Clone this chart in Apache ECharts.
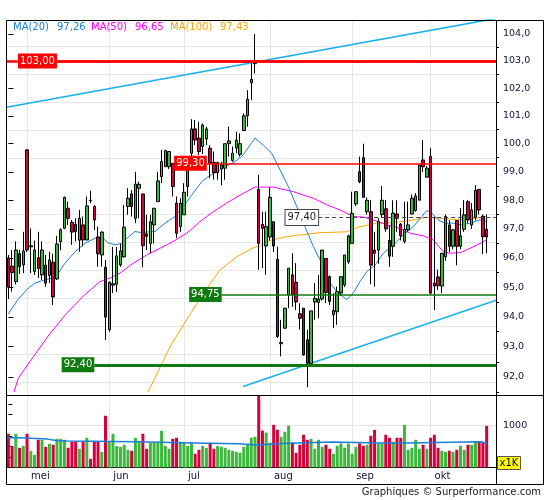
<!DOCTYPE html>
<html><head><meta charset="utf-8">
<script src="https://cdn.jsdelivr.net/npm/echarts@6/dist/echarts.min.js"></script>
<style>html,body{margin:0;padding:0;background:#fff}#c{width:545px;height:500px}</style>
</head><body><div id="c"></div>
<script>
// ---------------- DATA ----------------
const opens = [
96.0,95.72,95.19,96.15,95.76,99.78,96.38,95.54,96.01,95.42,
95.75,95.4,95.85,95.28,96.56,97.02,97.72,97.23,97.16,96.61,
97.14,96.62,98.0,97.78,96.72,96.1,95.68,93.57,95.07,95.1,
95.76,96.04,97.78,98.22,97.37,98.42,98.22,96.83,96.5,97.14,
97.95,98.83,99.18,99.18,99.3,97.9,97.08,97.49,98.48,99.66,
100.53,100.2,99.9,100.17,99.84,99.33,98.97,99.1,99.13,100.0,
99.4,99.84,99.62,100.47,101.0,102.2,102.9,98.38,97.16,96.41,
96.72,97.25,95.95,93.1,93.62,94.74,95.42,95.17,94.1,94.29,
93.23,92.45,94.5,94.48,94.6,95.98,95.36,94.07,94.17,94.8,
95.08,95.87,96.5,97.87,99.0,99.5,97.6,97.6,96.27,96.27,
97.5,97.7,96.6,96.4,97.52,97.17,96.57,96.97,97.52,97.64,
98.0,99.42,98.81,99.54,95.14,95.35,95.04,96.04,97.14,96.4,
97.29,96.4,96.99,97.95,97.14,97.4,98.38,97.44,96.99];
const closes = [
95.0,95.5,96.27,95.7,96.24,96.27,96.42,96.27,95.64,96.27,
95.14,95.93,94.67,96.48,96.97,98.1,97.37,96.89,96.91,97.37,
96.62,97.8,97.98,97.31,96.14,96.89,93.99,95.17,95.12,96.07,
96.24,97.06,98.07,97.78,98.57,98.56,96.42,96.74,97.25,97.72,
98.68,99.36,99.75,99.72,98.48,96.85,97.9,98.28,99.3,100.53,
100.13,99.72,100.67,100.53,99.3,98.97,99.33,99.24,100.0,100.1,
99.66,100.13,100.0,101.0,101.6,102.32,103.0,96.5,97.02,97.08,
98.1,96.41,93.34,93.14,94.29,95.65,94.74,94.5,93.95,92.73,
92.45,94.2,94.62,94.6,96.27,94.82,94.52,94.21,94.85,95.36,
96.1,96.76,97.54,98.3,98.65,98.1,98.0,95.75,96.16,97.25,
98.0,97.0,96.06,97.55,97.37,96.76,96.99,97.14,98.07,98.15,
99.24,99.18,99.13,94.8,95.04,95.05,96.16,97.43,96.4,96.97,
96.4,96.76,97.49,97.31,97.66,98.35,97.66,96.73,96.72];
const lows = [
94.6,94.85,95.1,95.45,95.48,96.2,95.48,95.42,95.31,95.25,
95.02,95.14,94.4,95.25,96.27,97.0,97.14,96.45,96.57,96.21,
96.4,96.6,97.9,96.96,95.7,95.7,93.23,93.5,94.8,94.84,
95.7,96.0,97.49,97.43,97.2,97.37,95.68,96.27,96.16,96.5,
97.95,98.6,99.18,99.1,98.13,96.68,96.9,97.49,98.13,99.42,
99.95,99.6,99.63,99.95,98.77,98.72,98.72,98.53,98.72,99.54,
99.36,99.66,99.54,100.47,100.61,101.57,102.54,95.6,95.65,95.42,
96.6,96.2,93.29,92.68,93.6,94.29,94.34,94.23,93.57,92.7,
91.66,92.4,93.9,93.95,94.55,94.46,94.4,93.62,93.73,94.7,
95.0,95.8,96.5,97.8,98.6,98.1,97.5,95.1,95.02,95.8,
97.4,96.9,95.7,96.04,96.9,96.6,96.5,96.9,97.5,97.6,
98.0,99.0,98.8,94.75,94.23,94.9,94.8,95.9,96.2,96.3,
95.75,96.3,96.9,97.2,97.0,97.3,97.5,96.13,96.16];
const highs = [
96.1,96.27,96.57,96.27,96.9,99.8,97.02,96.6,96.9,96.57,
96.1,96.21,96.15,96.76,97.02,98.13,97.95,97.31,97.37,97.66,
97.43,98.13,98.33,97.83,97.08,96.91,95.93,95.2,96.38,96.38,
96.48,97.83,98.42,98.36,99.0,98.65,98.22,97.49,97.49,97.72,
99.0,99.78,99.78,99.72,99.3,98.13,98.07,98.6,99.42,100.88,
100.85,100.79,100.73,100.61,99.95,99.72,99.36,99.36,100.0,100.61,
99.9,100.43,100.37,101.09,101.93,102.92,104.0,98.89,97.6,97.6,
98.45,97.25,96.39,93.9,94.3,95.65,96.16,95.82,94.46,94.3,
93.57,94.2,95.14,95.42,96.27,96.0,95.4,94.8,95.02,95.36,
96.1,96.8,98.3,98.3,99.54,100.0,98.1,98.0,96.9,97.37,
98.5,98.0,97.14,98.0,98.0,97.2,97.95,97.95,98.2,98.25,
99.24,100.13,99.2,99.84,97.43,95.6,96.16,97.5,97.3,97.0,
97.3,97.72,98.0,98.0,97.9,98.53,98.4,97.5,97.5];
const volumes = [
797,510,797,466,510,797,395,300,655,655,
490,560,537,678,678,655,466,608,608,442,
608,702,205,608,608,371,1223,608,797,510,
490,537,419,395,702,608,797,442,584,584,
584,868,510,442,678,702,608,584,510,584,
324,419,510,466,584,442,510,490,466,419,
395,371,348,490,560,702,726,1800,872,825,
588,1009,890,726,845,987,592,348,537,774,
655,679,442,655,490,537,442,324,513,569,
466,569,324,490,569,513,537,750,890,569,
569,774,703,608,703,703,1009,419,466,655,
442,537,442,703,774,466,395,371,395,371,
419,513,419,537,537,608,608,584,985];
// moving averages: [candle index, price]
const ma20 = [[0,94.1],[2.66,94.6],[5.33,94.97],[7.13,95.14],[8.92,95.22],[11.6,95.31],[13.36,95.48],[15.16,95.82],[17.83,96.21],[20.51,96.5],[23.18,96.68],[24.98,96.71],[26.74,96.52],[28.54,96.45],[30.33,96.5],[31.2,96.62],[33.89,96.91],[35.23,96.88],[39.24,96.91],[41.92,97.2],[44.59,97.43],[46.82,97.78],[49.06,98.18],[51.74,98.65],[53.5,98.83],[55.75,99.0],[57.98,99.18],[60.65,99.36],[62.87,99.6],[64.66,99.95],[66.0,100.2],[68.22,99.95],[70.47,99.66],[72.7,99.07],[74.92,98.48],[77.17,97.78],[79.39,97.08],[81.61,96.39],[83.86,95.82],[86.08,95.14],[88.3,94.8],[90.55,94.58],[92.31,94.8],[94.11,95.19],[95.9,95.53],[98.12,95.75],[100.34,96.16],[103.02,96.44],[105.69,96.79],[108.37,97.08],[110.62,97.43],[111.96,97.64],[113.29,97.55],[115.06,97.31],[116.85,97.2],[119.07,97.2],[121.32,97.14],[123.54,97.2],[126.22,97.31],[127.82,97.26]];
const ma50 = [[1.51,91.51],[2.66,91.96],[6.67,92.67],[11.14,93.44],[15.61,94.12],[20.05,94.7],[24.52,95.19],[27.2,95.31],[29.87,95.48],[33.43,95.82],[37.02,96.1],[40.58,96.33],[44.14,96.57],[47.72,96.85],[51.28,97.25],[54.84,97.6],[58.43,97.9],[61.99,98.18],[66.0,98.46],[69.13,98.46],[70.9,98.46],[76.26,98.3],[78.93,98.18],[81.61,98.07],[85.19,97.84],[88.75,97.66],[92.31,97.43],[94.99,97.41],[97.66,97.31],[101.25,97.14],[104.81,97.02],[107.48,96.85],[111.04,96.76],[113.72,96.62],[116.4,96.21],[118.19,96.16],[120.86,96.18],[123.54,96.33],[126.22,96.5],[128.0,96.62]];
const ma100 = [[37.37,91.51],[38.97,91.9],[43.26,93.0],[47.72,93.9],[52.17,94.8],[56.64,95.58],[61.11,96.04],[65.55,96.35],[67.4,96.42],[70.02,96.6],[74.49,96.73],[78.05,96.79],[83.4,96.87],[90.55,96.9],[94.11,97.08],[98.57,97.2],[103.02,97.22],[107.48,97.29],[111.96,97.41],[115.51,97.37],[120.86,97.31],[124.42,97.36],[126.67,97.41],[128.0,97.43]];
const maLast = {ma20: '97,26', ma50: '96,65', ma100: '97,43'};
// average volume (step line): [candle index, volume]
const volAvg = [[-0.3,702],[3.1,671],[10.6,640],[12.7,624],[15.7,608],[34.4,576],[52.6,560],[61.5,530],[66.5,568],[73.2,600],[86.6,576],[102.7,608],[126.5,568],[128.2,568]];
// trend lines: [candle index, price]
const upperTrend = [[-0.5,101.31],[130.5,104.58]];
const lowerTrend = [[62.8,91.69],[130.5,94.56]];
// horizontal levels
const levelValues = [103.00, 99.30, 94.75, 92.40, 97.40];
const levelStarts = [13.0, 53.1, 57.1, 23.0, 82.9];
// axes
const monthStarts = [5, 27, 47, 70, 92, 113];
const monthNames = ['mei', 'jun', 'jul', 'aug', 'sep', 'okt'];
const priceTicks = [92,93,94,95,96,97,98,99,100,101,102,103,104];
const priceMinorTicks = [91.5,92.5,93.5,94.5,95.5,96.5,97.5,98.5,99.5,100.5,101.5,102.5,103.5,104.5];
const volTicks = [250,500,750,1000,1250,1500];
const volLabels = [1000];
const yMin = 91.41, yMax = 104.52, volMax = 1714;
const NCAT = 131;
const categories = Array.from({length: NCAT}, (_, i) => String(i));

// ---------------- CHART ----------------
const L = Math.log;
const FONT = 'DejaVu Sans';
const AX = '#10103a';
const UP = '#3cb93c', DOWN = '#d6003c';
const fmt = (v, d) => v.toFixed(d).replace('.', ',');

const candleData = opens.map((o, i) => [L(o), L(closes[i]), L(lows[i]), L(highs[i])]);
const volData = volumes.map((v, i) => ({value: v, itemStyle: {color: closes[i] >= opens[i] ? UP : DOWN}}));
const toLn = arr => arr.map(p => [p[0], L(p[1])]);

function levelLine(idx, color, width, type, labelStyle) {
  const y = L(levelValues[idx]);
  return [
    {coord: [levelStarts[idx], y], lineStyle: {color, width, type},
     label: Object.assign({show: true, position: 'start', distance: 0, formatter: fmt(levelValues[idx], 2),
       fontFamily: FONT, fontSize: 10, padding: [2, 2, 1, 2], lineHeight: 12}, labelStyle)},
    {coord: [NCAT - 0.5, y]}
  ];
}

const option = {
  animation: false,
  grid: [
    {left: 6.5, top: 20, width: 489.5, height: 375},
    {left: 6.5, top: 395, width: 489.5, height: 72.5}
  ],
  xAxis: [
    {type: 'category', gridIndex: 0, data: categories, boundaryGap: true,
     axisLine: {show: false}, axisTick: {show: false}, axisLabel: {show: false}, splitLine: {show: false}},
    {type: 'category', gridIndex: 1, data: categories, boundaryGap: true,
     axisLine: {show: true, lineStyle: {color: '#000', width: 1}}, axisTick: {show: false},
     axisLabel: {show: true, interval: (i) => monthStarts.indexOf(i) >= 0,
       formatter: (v) => monthNames[monthStarts.indexOf(parseInt(v, 10))] || '',
       align: 'left', padding: [0, 0, 0, 4], margin: 4, color: AX, fontFamily: FONT, fontSize: 10},
     splitLine: {show: false}},
    {type: 'value', gridIndex: 0, min: -0.5, max: NCAT - 0.5, show: false},
    {type: 'value', gridIndex: 1, min: -0.5, max: NCAT - 0.5, show: false}
  ],
  yAxis: [
    {type: 'value', gridIndex: 0, position: 'right', min: L(yMin), max: L(yMax),
     axisLine: {show: false},
     axisTick: {show: true, customValues: priceTicks.map(L), length: 5, lineStyle: {color: '#000'}},
     axisLabel: {show: true, customValues: priceTicks.map(L), formatter: (v) => fmt(Math.exp(v), 1),
       color: AX, fontFamily: FONT, fontSize: 9.5, margin: 7},
     splitLine: {show: false}},
    {type: 'value', gridIndex: 0, position: 'right', min: L(yMin), max: L(yMax),
     axisLine: {show: false},
     axisTick: {show: true, customValues: priceMinorTicks.map(L), length: 3, lineStyle: {color: '#000'}},
     axisLabel: {show: false}, splitLine: {show: false}},
    {type: 'value', gridIndex: 1, position: 'right', min: 0, max: volMax,
     axisLine: {show: false},
     axisTick: {show: true, customValues: volTicks, length: 4, lineStyle: {color: '#000'}},
     axisLabel: {show: true, customValues: volLabels, formatter: (v) => String(v),
       color: AX, fontFamily: FONT, fontSize: 9.5, margin: 7},
     splitLine: {show: false}}
  ],
  series: [
    // grid lines (main)
    {type: 'line', xAxisIndex: 2, yAxisIndex: 0, data: [[0, L(100)]], symbol: 'none', silent: true, z: 1,
     lineStyle: {opacity: 0},
     markLine: {silent: true, symbol: ['none', 'none'], z: 1, animation: false, label: {show: false},
       lineStyle: {color: '#e6e6e6', width: 1, type: 'solid'},
       data: priceTicks.map(p => ({yAxis: L(p)})).concat(monthStarts.map(i => ({xAxis: i})))}},
    // grid lines (volume)
    {type: 'line', xAxisIndex: 3, yAxisIndex: 2, data: [[0, 0]], symbol: 'none', silent: true, z: 1,
     lineStyle: {opacity: 0},
     markLine: {silent: true, symbol: ['none', 'none'], z: 1, animation: false, label: {show: false},
       lineStyle: {color: '#e6e6e6', width: 1, type: 'solid'},
       data: [{yAxis: 1000}].concat(monthStarts.map(i => ({xAxis: i})))}},
    // moving averages
    {name: 'MA(100)', type: 'line', xAxisIndex: 2, yAxisIndex: 0, data: toLn(ma100), symbol: 'none',
     lineStyle: {color: '#ffa500', width: 1}, z: 3, silent: true},
    {name: 'MA(50)', type: 'line', xAxisIndex: 2, yAxisIndex: 0, data: toLn(ma50), symbol: 'none',
     lineStyle: {color: '#ff00ff', width: 1}, z: 3, silent: true},
    {name: 'MA(20)', type: 'line', xAxisIndex: 2, yAxisIndex: 0, data: toLn(ma20), symbol: 'none',
     lineStyle: {color: '#1a7fd8', width: 1}, z: 3, silent: true},
    // trend lines
    {type: 'line', xAxisIndex: 2, yAxisIndex: 0, data: toLn(upperTrend), symbol: 'none',
     lineStyle: {color: '#19b2f0', width: 1.5}, z: 3, silent: true},
    {type: 'line', xAxisIndex: 2, yAxisIndex: 0, data: toLn(lowerTrend), symbol: 'none',
     lineStyle: {color: '#19b2f0', width: 1.5}, z: 3, silent: true,
     markLine: {silent: true, symbol: ['none', 'none'], z: 6, animation: false,
       data: [
         [{coord: [-0.5, L(levelValues[0])], lineStyle: {color: '#ff0000', width: 2.5, type: 'solid'}, label: {show: false}},
          {coord: [NCAT - 0.5, L(levelValues[0])]}],
         levelLine(0, '#ff0000', 2.5, 'solid', {color: '#fff', backgroundColor: '#ff0000'}),
         levelLine(1, '#ff0000', 1.5, 'solid', {color: '#fff', backgroundColor: '#ff0000'}),
         levelLine(2, '#107a10', 1.5, 'solid', {color: '#fff', backgroundColor: '#107a10'}),
         levelLine(3, '#107a10', 3, 'solid', {color: '#fff', backgroundColor: '#107a10'}),
         levelLine(4, '#444444', 1, [4, 3], {color: '#222', backgroundColor: '#fff', borderColor: '#444', borderWidth: 1})
       ]}},
    // candles
    {type: 'candlestick', xAxisIndex: 0, yAxisIndex: 0, data: candleData, barWidth: 3, z: 5, silent: true,
     itemStyle: {color: UP, color0: DOWN, borderColor: '#000', borderColor0: '#000', borderWidth: 1}},
    // volume
    {type: 'bar', xAxisIndex: 1, yAxisIndex: 2, data: volData, barWidth: 3, z: 3, silent: true},
    {type: 'line', xAxisIndex: 3, yAxisIndex: 2, data: volAvg, step: 'end', symbol: 'none',
     lineStyle: {color: '#1a7fd8', width: 1.5}, z: 4, silent: true}
  ],
  graphic: [
    {type: 'rect', shape: {x: 6.5, y: 20.5, width: 537, height: 464}, style: {fill: 'none', stroke: '#000', lineWidth: 1}, z: 100, silent: true},
    {type: 'line', shape: {x1: 6.5, y1: 395.5, x2: 543.5, y2: 395.5}, style: {stroke: '#000', lineWidth: 1}, z: 100, silent: true},
    {type: 'line', shape: {x1: 496.5, y1: 20.5, x2: 496.5, y2: 484.5}, style: {stroke: '#000', lineWidth: 1}, z: 100, silent: true},
    {type: 'rect', shape: {x: 497.5, y: 456.5, width: 23, height: 13}, style: {fill: '#ffff00', stroke: '#555', lineWidth: 1}, z: 100, silent: true},
    {type: 'text', x: 509, y: 458, style: {text: 'x1K', fill: '#000', fontFamily: FONT, fontSize: 10, textAlign: 'center'}, z: 101, silent: true},
    {type: 'text', x: 13, y: 22, style: {text: 'MA(20)', fill: '#1a7fd8', fontFamily: FONT, fontSize: 10}, z: 101, silent: true},
    {type: 'text', x: 57, y: 22, style: {text: maLast.ma20, fill: '#1a7fd8', fontFamily: FONT, fontSize: 10}, z: 101, silent: true},
    {type: 'text', x: 91, y: 22, style: {text: 'MA(50)', fill: '#ff00ff', fontFamily: FONT, fontSize: 10}, z: 101, silent: true},
    {type: 'text', x: 135, y: 22, style: {text: maLast.ma50, fill: '#ff00ff', fontFamily: FONT, fontSize: 10}, z: 101, silent: true},
    {type: 'text', x: 170, y: 22, style: {text: 'MA(100)', fill: '#ffa500', fontFamily: FONT, fontSize: 10}, z: 101, silent: true},
    {type: 'text', x: 220, y: 22, style: {text: maLast.ma100, fill: '#ffa500', fontFamily: FONT, fontSize: 10}, z: 101, silent: true},
    {type: 'text', x: 541, y: 487, style: {text: 'Graphiques © Surperformance.com', fill: '#222', fontFamily: FONT, fontSize: 10, textAlign: 'right'}, z: 101, silent: true}
  ]
};
const chart = echarts.init(document.getElementById('c'), null, {renderer: 'canvas'});
chart.setOption(option);
</script>
</body></html>
